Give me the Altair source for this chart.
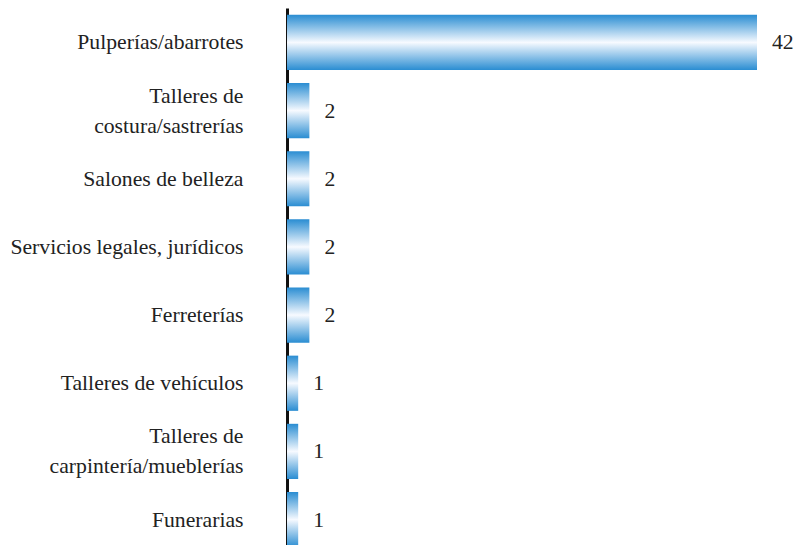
import altair as alt
import pandas as pd

categories = [
    "Pulperías/abarrotes",
    "Talleres de|costura/sastrerías",
    "Salones de belleza",
    "Servicios legales, jurídicos",
    "Ferreterías",
    "Talleres de vehículos",
    "Talleres de|carpintería/mueblerías",
    "Funerarias",
]
values = [42, 2, 2, 2, 2, 1, 1, 1]

df = pd.DataFrame({"cat": categories, "val": values})

FONT = "Liberation Serif"
FS = 21.7

grad = alt.Gradient(
    gradient="linear",
    x1=0, x2=0, y1=0, y2=1,
    stops=[
        alt.GradientStop(color="#2a8dd2", offset=0),
        alt.GradientStop(color="#f7faff", offset=0.5),
        alt.GradientStop(color="#2a8dd2", offset=1),
    ],
)

y = alt.Y(
    "cat:N",
    sort=categories,
    title=None,
    scale=alt.Scale(paddingInner=0.19, paddingOuter=0.1),
    axis=alt.Axis(
        ticks=False,
        domain=True,
        domainColor="#111111",
        domainWidth=3,
        labelFont=FONT,
        labelFontSize=FS,
        labelColor="#222222",
        labelPadding=44,
        labelLineHeight=30,
        labelLimit=400,
        labelOffset={"condition": {"test": "indexof(datum.label, '|') >= 0", "value": -15}, "value": 0},
        labelExpr="split(datum.label, '|')",
    ),
)
x = alt.X("val:Q", title=None, axis=None, scale=alt.Scale(domain=[0, 42], nice=False))

bars = alt.Chart(df).mark_bar(fill=grad).encode(x=x, y=y)
text = alt.Chart(df).mark_text(
    align="left", baseline="middle", dx=15, font=FONT, fontSize=FS, color="#222222"
).encode(x=x, y=alt.Y("cat:N", sort=categories), text="val:Q")

chart = (
    alt.layer(bars, text)
    .properties(
        width=470,
        height=546,
        autosize=alt.AutoSizeParams(type="none"),
        padding={"left": 279, "top": 0, "right": 37, "bottom": -9},
    )
    .configure_view(stroke=None)
)

chart.save("out.html", embed_options={"renderer": "svg", "actions": False})
